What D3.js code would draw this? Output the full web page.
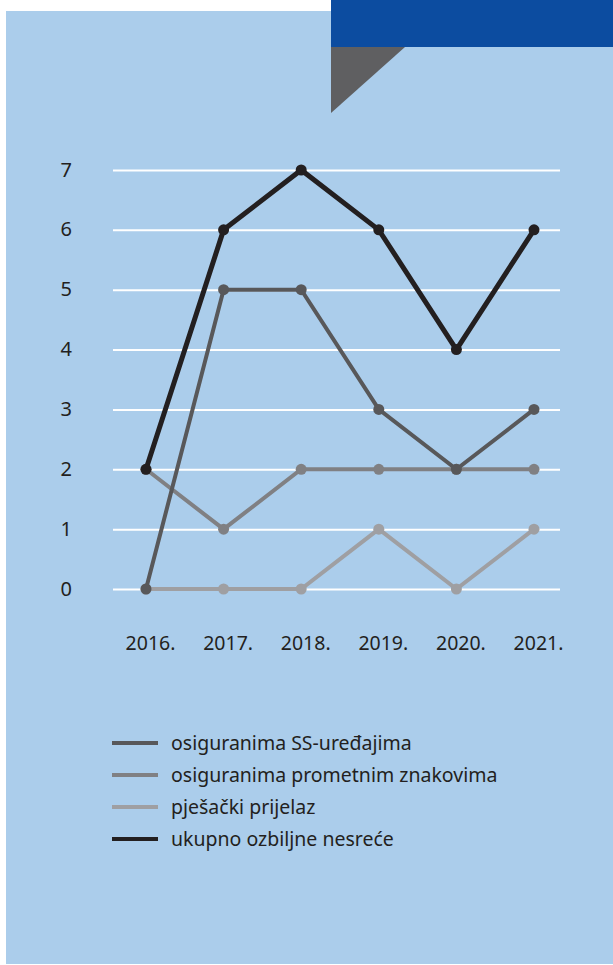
<!DOCTYPE html>
<html>
<head>
<meta charset="utf-8">
<script src="https://cdn.jsdelivr.net/npm/d3@7"></script>
<style>
  body { margin: 0; background: #fff; }
  svg { display: block; }
  text { font-family: "Noto Sans", sans-serif; fill: #231f20; }
</style>
</head>
<body>
<svg width="613" height="965"></svg>
<script>
var years = [2016, 2017, 2018, 2019, 2020, 2021];
var yTicks = [0, 1, 2, 3, 4, 5, 6, 7];

// series, drawn bottom to top
var pjesacki  = [0, 0, 0, 1, 0, 1];
var prometni  = [2, 1, 2, 2, 2, 2];
var ssUredaji = [0, 5, 5, 3, 2, 3];
var ukupno    = [2, 6, 7, 6, 4, 6];

var seriesNames  = ["pješački prijelaz", "osiguranima prometnim znakovima", "osiguranima SS-uređajima", "ukupno ozbiljne nesreće"];
var seriesColors = ["#9f9fa2", "#808083", "#58585a", "#231f20"];
var legendOrder  = [2, 1, 0, 3];

var svg = d3.select("svg");

// background panel + corner decoration
svg.append("rect").attr("x", 6).attr("y", 11).attr("width", 607).attr("height", 953).attr("fill", "#abcdeb");
svg.append("rect").attr("x", 331).attr("y", 0).attr("width", 282).attr("height", 47).attr("fill", "#0c4ca0");
svg.append("path").attr("d", "M331,47L405,47L331,113Z").attr("fill", "#5f5f61");

var x = d3.scalePoint().domain(years).range([146, 534]);
var y = d3.scaleLinear().domain([0, 7]).range([589, 170]);

// y axis with gridlines
var yAxis = svg.append("g")
    .attr("transform", "translate(113,0)")
    .call(d3.axisLeft(y).tickValues(yTicks).tickSize(-447).tickPadding(41).tickFormat(d3.format("d")));
yAxis.select(".domain").remove();
yAxis.selectAll("line").attr("stroke", "#fff").attr("stroke-width", 2);
yAxis.selectAll("text").attr("font-size", 20).attr("font-family", "Noto Sans").attr("dy", "0.3em").style("fill", "#231f20");

// x axis labels
var xAxis = svg.append("g")
    .attr("transform", "translate(0,630)")
    .call(d3.axisBottom(x).tickSize(0).tickPadding(0).tickFormat(function(d) { return d + "."; }));
xAxis.select(".domain").remove();
xAxis.selectAll("text").attr("font-size", 19.5).attr("font-family", "Noto Sans").attr("dx", 4).attr("dy", "1.05em").style("fill", "#231f20");

var allSeries = [pjesacki, prometni, ssUredaji, ukupno];
var widths = [4, 4, 4, 5];

var line = d3.line()
    .x(function(d, i) { return x(years[i]); })
    .y(function(d) { return y(d); });

allSeries.forEach(function(vals, k) {
  var g = svg.append("g");
  g.append("path")
    .datum(vals)
    .attr("d", line)
    .attr("fill", "none")
    .attr("stroke", seriesColors[k])
    .attr("stroke-width", widths[k])
    .attr("stroke-linejoin", "miter");
  g.selectAll("circle")
    .data(vals)
    .enter().append("circle")
      .attr("cx", function(d, i) { return x(years[i]); })
      .attr("cy", function(d) { return y(d); })
      .attr("r", 5.5)
      .attr("fill", seriesColors[k]);
});

// legend
var legend = svg.append("g").attr("transform", "translate(112,743)");
var item = legend.selectAll("g")
    .data(legendOrder)
    .enter().append("g")
      .attr("transform", function(d, i) { return "translate(0," + (i * 32) + ")"; });
item.append("line")
    .attr("x1", 0).attr("x2", 46)
    .attr("stroke", function(d) { return seriesColors[d]; })
    .attr("stroke-width", 4);
item.append("text")
    .attr("x", 59)
    .attr("y", 6.5)
    .attr("font-size", 19.5)
    .text(function(d) { return seriesNames[d]; });
</script>
</body>
</html>
